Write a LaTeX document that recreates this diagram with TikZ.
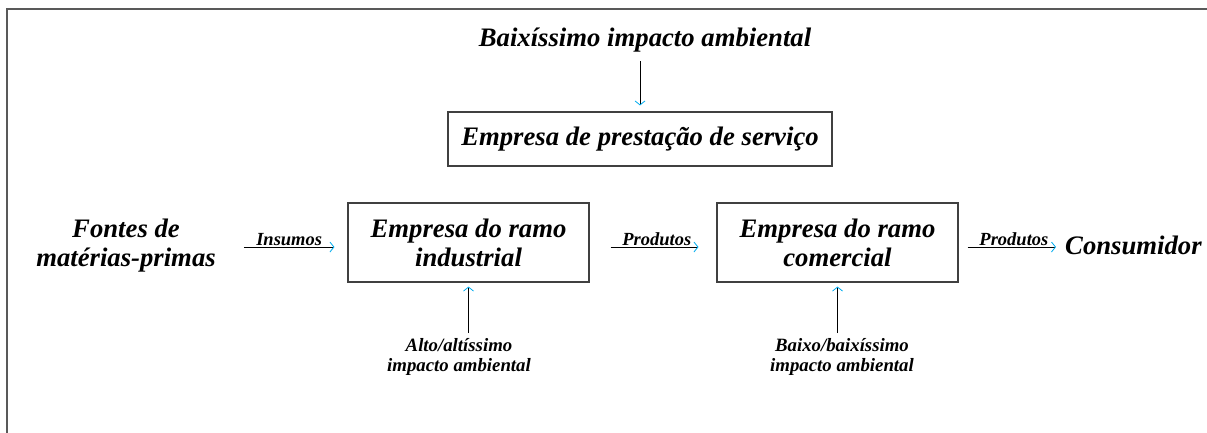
\documentclass[tikz,border=0pt]{standalone}
\usepackage{fontspec}
\setmainfont{Liberation Serif}
\usetikzlibrary{arrows.meta}
\begin{document}
\begin{tikzpicture}[x=1pt,y=-1pt,
  every node/.style={inner sep=2pt},
  big/.style={font=\fontsize{26.7}{29}\selectfont\bfseries\itshape},
  small/.style={font=\fontsize{18.8}{20.5}\selectfont\bfseries\itshape},
  lab/.style={font=\fontsize{18.5}{19}\selectfont\bfseries\itshape, inner sep=1pt},
  box/.style={draw=black!75, line width=1.1pt, minimum width=241pt, minimum height=79pt, align=center, big},
  arr/.style={draw=black, line width=0.9pt, -{Straight Barb[cyan, length=4pt, width=10pt, line width=0.8pt]}},
]
\useasboundingbox (0,0) rectangle (1207,432);
\fill[white] (0,0) rectangle (1207,432);
\draw[black!65, line width=1.5pt] (1220,9) -- (7,9) -- (7,445);

\node[big] (top) at (645,40) {Baixíssimo impacto ambiental};
\node[draw=black!75, line width=1.1pt, minimum width=384pt, minimum height=54pt, big] (serv) at (640,139) {Empresa de prestação de serviço};
\node[big, align=center] (fontes) at (126,246) {Fontes de\\matérias-primas};
\node[box] (ind) at (468.5,242.5) {Empresa do ramo\\industrial};
\node[box] (com) at (837.5,242.5) {Empresa do ramo\\comercial};
\node[big, anchor=west] (cons) at (1063,245) {Consumidor};
\node[small, align=center, outer sep=3pt] (alt) at (459,357) {Alto/altíssimo\\impacto ambiental};
\node[small, align=center, outer sep=3pt] (bai) at (842,357) {Baixo/baixíssimo\\impacto ambiental};
\coordinate (row) at (0,247);

\draw[arr, shorten <=7pt, shorten >=6pt] (top.south -| serv.north) -- (serv.north);
\draw[arr, shorten <=26pt, shorten >=13pt] (fontes.east |- row) -- (ind.west |- row)
  node[lab, pos=0.55, above] {Insumos};
\draw[arr, shorten <=21pt, shorten >=18pt] (ind.east |- row) -- (com.west |- row)
  node[lab, pos=0.53, above] {Produtos};
\draw[arr, shorten <=9pt, shorten >=7pt] (com.east |- row) -- (cons.west |- row)
  node[lab, pos=0.53, above] {Produtos};
\draw[arr, shorten >=4pt] (alt.north -| ind.south) -- (ind.south);
\draw[arr, shorten >=4pt] (bai.north -| com.south) -- (com.south);
\end{tikzpicture}
\end{document}
